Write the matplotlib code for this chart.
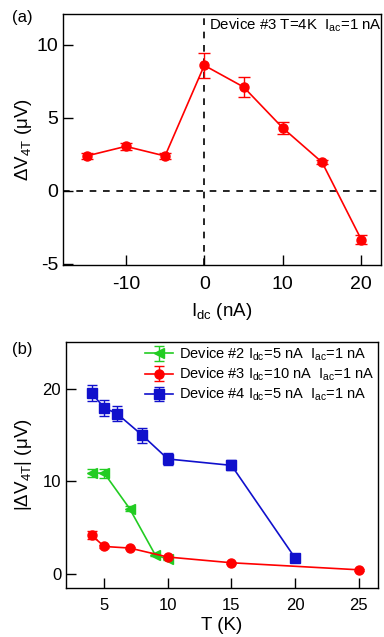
import matplotlib.pyplot as plt
import numpy as np

plt.rcParams['font.family'] = ['Liberation Sans', 'DejaVu Sans']
plt.rcParams['mathtext.fontset'] = 'custom'
plt.rcParams['mathtext.rm'] = 'Liberation Sans'
plt.rcParams['mathtext.it'] = 'Liberation Sans'
plt.rcParams['axes.unicode_minus'] = False

# panel (a): device #3, T=4K
idc = [-15, -10, -5, 0, 5, 10, 15, 20]
dv4t = [2.37, 3.03, 2.37, 8.58, 7.1, 4.29, 1.94, -3.36]
dv4t_err = [0.2, 0.25, 0.2, 0.85, 0.7, 0.4, 0.15, 0.3]

# panel (b): temperature dependence
t_dev2 = [4, 5, 7, 9, 10]
v_dev2 = [10.92, 10.9, 7.06, 2.09, 1.6]
e_dev2 = [0.4, 0.5, 0.3, 0.15, 0.1]

t_dev3 = [4, 5, 7, 10, 15, 25]
v_dev3 = [4.2, 2.98, 2.81, 1.84, 1.22, 0.46]
e_dev3 = [0.4, 0.2, 0.15, 0.15, 0.1, 0.1]

t_dev4 = [4, 5, 6, 8, 10, 15, 20]
v_dev4 = [19.57, 17.95, 17.33, 14.98, 12.43, 11.74, 1.73]
e_dev4 = [0.9, 0.9, 0.85, 0.8, 0.6, 0.55, 0.15]

fig = plt.figure(figsize=(3.84, 6.37), dpi=100)
ax1 = fig.add_axes([0.164, 0.584, 0.828, 0.394])
ax2 = fig.add_axes([0.172, 0.077, 0.812, 0.3866])

for ax in (ax1, ax2):
    ax.tick_params(direction='in', length=7, width=1, top=False, right=False)
    for s in ax.spines.values():
        s.set_linewidth(1)

ax1.axhline(0, color='k', ls='--', lw=1.2, dashes=(4, 4))
ax1.axvline(0, color='k', ls='--', lw=1.2, dashes=(4, 4))
ax1.errorbar(idc, dv4t, yerr=dv4t_err, color='red', marker='o', ms=6.5,
             lw=1.2, capsize=4, elinewidth=1)
ax1.set_xlim(-18, 22.5)
ax1.set_ylim(-5.1, 12.1)
ax1.set_xticks([-10, 0, 10, 20])
ax1.set_yticks([-5, 0, 5, 10])
ax1.tick_params(labelsize=14)
ax1.tick_params(axis='x', pad=8)
ax1.set_xlabel('I$_{dc}$ (nA)', fontsize=13.5, labelpad=6)
ax1.set_ylabel(r'$\Delta$V$_{4T}$ ($\mu$V)', fontsize=13.5, labelpad=2)
ax1.text(0.6, 11.95, 'Device #3 T=4K  I$_{ac}$=1 nA', fontsize=10.8, va='top')
fig.text(0.03, 0.965, '(a)', fontsize=12)

ax2.errorbar(t_dev2, v_dev2, yerr=e_dev2, color='#22cc22', marker='<', ms=6.5,
             lw=1.2, capsize=3.5, elinewidth=1,
             label='Device #2 I$_{dc}$=5 nA  I$_{ac}$=1 nA')
ax2.errorbar(t_dev3, v_dev3, yerr=e_dev3, color='red', marker='o', ms=6.5,
             lw=1.2, capsize=3.5, elinewidth=1,
             label='Device #3 I$_{dc}$=10 nA  I$_{ac}$=1 nA')
ax2.errorbar(t_dev4, v_dev4, yerr=e_dev4, color='#1010cc', marker='s', ms=6.5,
             lw=1.2, capsize=3.5, elinewidth=1,
             label='Device #4 I$_{dc}$=5 nA  I$_{ac}$=1 nA')
ax2.set_xlim(2, 26.5)
ax2.set_ylim(-1.5, 25.1)
ax2.set_xticks([5, 10, 15, 20, 25])
ax2.set_yticks([0, 10, 20])
ax2.tick_params(labelsize=12)
ax2.tick_params(axis='x', pad=7)
ax2.set_xlabel('T (K)', fontsize=13.5, labelpad=3)
ax2.set_ylabel(r'|$\Delta$V$_{4T}$| ($\mu$V)', fontsize=13.5, labelpad=6)
leg = ax2.legend(loc='upper right', frameon=False, fontsize=10.5, handlelength=1.9,
                 borderaxespad=0.0, borderpad=0.25, labelspacing=0.2,
                 handletextpad=0.4)
fig.text(0.03, 0.445, '(b)', fontsize=12)

fig.savefig('out.png', dpi=100)
